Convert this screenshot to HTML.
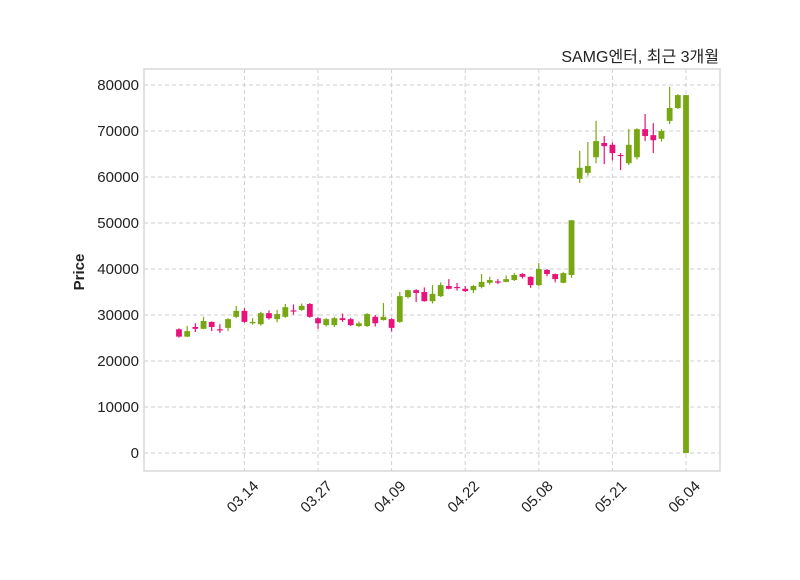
<!DOCTYPE html>
<html><head><meta charset="utf-8"><style>
body{margin:0;background:#fff;}
svg text{font-family:"Liberation Sans","Noto Sans CJK KR",sans-serif;}
</style></head><body>
<svg id="chart" width="800" height="575" xmlns="http://www.w3.org/2000/svg">
<rect x="0" y="0" width="800" height="575" fill="#fff"/>
<text x="719" y="62" text-anchor="end" font-size="16" fill="#222">SAMG엔터, 최근 3개월</text>
<text transform="translate(84,272) rotate(-90)" text-anchor="middle" font-size="15" font-weight="bold" fill="#222">Price</text>
<g id="grid"></g><g id="candles"></g><g id="axes"></g>
<rect x="144" y="69" width="576" height="402" fill="none" stroke="#d9d9d9" stroke-width="1.5"/>
</svg>
<script>
const opens  = [26900,25300,27400,27000,28500,26900,27200,29600,30900,28200,28000,30400,29100,29600,31000,31100,32400,29300,27800,27800,29300,29100,27600,27600,29600,28900,29100,28500,33900,35400,35000,33000,34100,36300,36100,35700,35400,36100,37000,37300,37200,37600,38900,38300,36500,39800,38900,37000,38700,59600,60900,64300,67400,67000,64800,63000,64300,70400,69100,68300,72200,75000,0];
const closes = [25300,26500,27000,28700,27400,26700,29100,30900,28500,28500,30400,29300,30200,31700,30800,32000,29600,28200,29100,29300,28900,27800,28200,30200,28200,29600,27200,34100,35400,34800,33000,34600,36500,35700,35900,35200,36300,37200,37600,37100,37800,38700,38300,36500,40000,38900,37800,39100,50600,62000,62400,67800,66700,65200,64600,67000,70400,68900,68000,70000,75000,77800,77800];
const highs  = [27100,27600,28200,29600,28600,28000,29300,32000,31500,29300,30700,31000,31100,32400,32300,32500,32600,29500,29300,29600,30300,29400,28600,30400,30000,32600,29300,35000,35500,35600,36000,36500,37100,37800,37000,36300,36500,38900,38300,37800,38600,39100,39100,38400,41300,40000,39000,39300,50600,65700,67600,72200,68900,67500,65200,70400,70600,73700,71700,70400,79600,78000,77800];
const lows   = [25100,25200,26300,26900,26500,26100,26500,29300,28300,27900,27700,29000,28400,29400,30100,30900,29400,27000,27500,27400,28500,27600,27400,27400,27500,28800,26400,28300,33600,32800,32900,32500,33900,35600,35300,35000,34800,35800,36600,36700,37100,37400,37900,35900,36300,38400,37100,36900,38100,58700,60300,63000,62800,63600,61500,62600,63800,67800,65200,67700,71500,74800,0];
const tickIdx = [8,17,26,35,44,53,62];
const tickLabels = ["03.14","03.27","04.09","04.22","05.08","05.21","06.04"];
const yTicks = [0,10000,20000,30000,40000,50000,60000,70000,80000];

const NS="http://www.w3.org/2000/svg";
const x0=179, step=(686-179)/62;
const xs=i=>x0+i*step;
const ys=v=>453-v*0.0046;
function mk(tag,attrs,parent){const e=document.createElementNS(NS,tag);for(const k in attrs)e.setAttribute(k,attrs[k]);parent.appendChild(e);return e;}
const grid=document.getElementById('grid'),axes=document.getElementById('axes'),cg=document.getElementById('candles');
yTicks.forEach(v=>{
  const l=mk('line',{x1:144,x2:720,y1:ys(v),y2:ys(v),stroke:'#cfcfcf','stroke-dasharray':'4,3'},grid);
  
  
  const t=mk('text',{x:139,y:ys(v)+5,'text-anchor':'end','font-size':'15',fill:'#222'},axes);
  t.textContent=v;
  
  
});
tickIdx.forEach((i,k)=>{
  const x=xs(i);
  const l=mk('line',{x1:x,x2:x,y1:69,y2:471,stroke:'#cfcfcf','stroke-dasharray':'4,3'},grid);
  
  
  const t=mk('text',{transform:`translate(${x+15},${487}) rotate(-45)`,'text-anchor':'end','font-size':'15',fill:'#222'},axes);
  t.textContent=tickLabels[k];
  
  
});
opens.forEach((o,i)=>{
  const c=closes[i],up=c>=o,col=up?'#77a813':'#e8137a';
  const x=xs(i),w=5.8;
  const g=mk('g',{},cg);
  
  
  mk('line',{x1:x,x2:x,y1:ys(highs[i]),y2:ys(lows[i]),stroke:col,'stroke-width':1.2},g);
  const top=ys(Math.max(o,c)),bot=ys(Math.min(o,c));
  mk('rect',{x:x-w/2,y:top,width:w,height:Math.max(bot-top,1.2),fill:col},g);
});
</script>
</body></html>
